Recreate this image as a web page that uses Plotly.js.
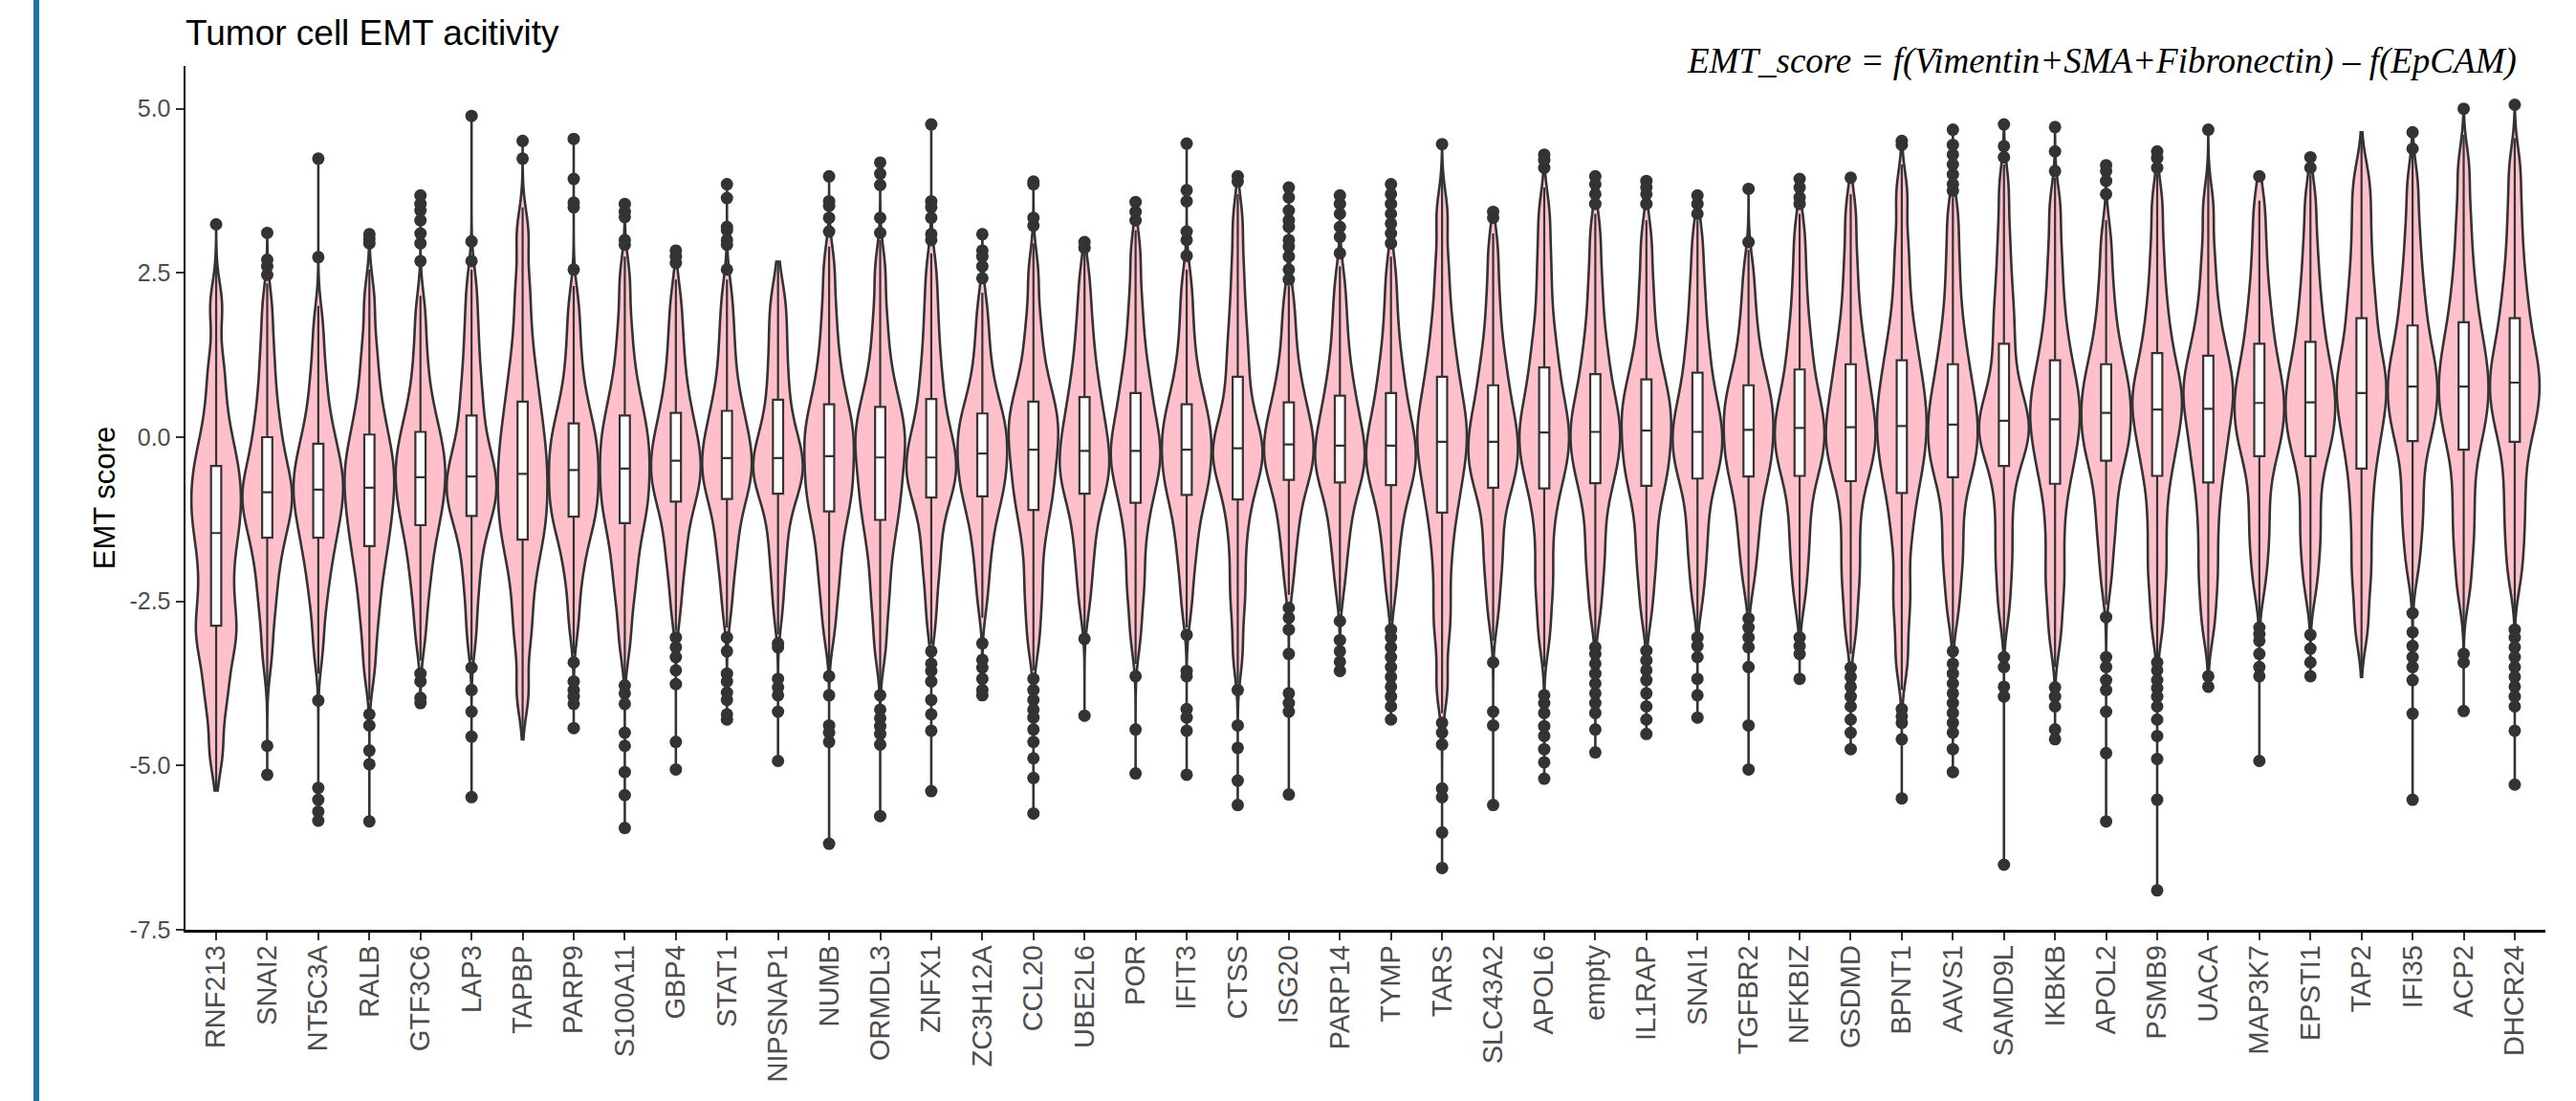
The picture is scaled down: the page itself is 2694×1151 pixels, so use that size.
<!DOCTYPE html>
<html><head><meta charset="utf-8">
<script src="https://cdn.plot.ly/plotly-3.0.1.min.js"></script>
<style>
html,body{margin:0;padding:0;background:#fff;overflow:hidden}
#chart{position:absolute;left:0;top:0;width:2694px;height:1151px}
#bar{position:absolute;left:35px;top:0;width:6px;height:1151px;background:#1B75AB}
</style>
</head><body>
<div id="chart"></div><div id="bar"></div>
<script>
const genes = ['RNF213','SNAI2','NT5C3A','RALB','GTF3C6','LAP3','TAPBP','PARP9','S100A11','GBP4','STAT1','NIPSNAP1','NUMB','ORMDL3','ZNFX1','ZC3H12A','CCL20','UBE2L6','POR','IFIT3','CTSS','ISG20','PARP14','TYMP','TARS','SLC43A2','APOL6','empty','IL1RAP','SNAI1','TGFBR2','NFKBIZ','GSDMD','BPNT1','AAVS1','SAMD9L','IKBKB','APOL2','PSMB9','UACA','MAP3K7','EPSTI1','TAP2','IFI35','ACP2','DHCR24'];

// box statistics
const q1 =          [-2.87,-1.53,-1.53,-1.66,-1.34,-1.20,-1.56,-1.21,-1.31,-0.98,-0.94,-0.86,-1.13,-1.26,-0.92,-0.90,-1.11,-0.86,-1.00,-0.88,-0.95,-0.65,-0.69,-0.73,-1.15,-0.77,-0.78,-0.70,-0.74,-0.63,-0.60,-0.59,-0.67,-0.85,-0.61,-0.44,-0.71,-0.36,-0.59,-0.69,-0.29,-0.29,-0.48,-0.06,-0.19,-0.07];
const median =      [-1.46,-0.84,-0.80,-0.77,-0.61,-0.60,-0.56,-0.50,-0.48,-0.36,-0.32,-0.32,-0.29,-0.31,-0.31,-0.25,-0.19,-0.21,-0.21,-0.19,-0.17,-0.11,-0.13,-0.13,-0.07,-0.07,0.07,0.08,0.10,0.08,0.11,0.14,0.15,0.17,0.19,0.25,0.27,0.37,0.42,0.43,0.52,0.53,0.67,0.77,0.77,0.83];
const q3 =          [-0.44,0.00,-0.10,0.04,0.08,0.33,0.54,0.21,0.33,0.37,0.40,0.57,0.50,0.46,0.58,0.36,0.54,0.61,0.67,0.50,0.92,0.53,0.63,0.67,0.92,0.79,1.06,0.96,0.88,0.98,0.79,1.03,1.11,1.17,1.11,1.42,1.17,1.11,1.28,1.24,1.42,1.45,1.81,1.70,1.75,1.81];
const whiskerLow =  [-5.38,-3.80,-3.60,-4.00,-3.40,-3.40,-4.60,-3.30,-3.70,-2.95,-2.90,-3.00,-3.50,-3.80,-3.15,-2.75,-3.55,-3.00,-3.45,-2.90,-3.75,-2.40,-2.65,-2.80,-4.20,-3.10,-3.50,-3.15,-3.15,-3.00,-2.65,-2.95,-3.30,-3.85,-3.15,-3.20,-3.50,-2.55,-3.35,-3.55,-2.75,-2.85,-3.65,-2.60,-3.05,-2.85];
const whiskerHigh = [2.90,2.34,2.00,2.55,2.15,2.55,3.50,2.30,2.75,2.40,2.40,2.67,2.90,3.00,2.80,2.20,2.95,2.80,3.15,2.55,3.70,2.30,2.60,2.75,4.00,3.10,3.80,3.40,3.30,3.30,2.85,3.40,3.70,4.15,3.65,4.15,3.95,3.30,4.00,4.10,3.60,4.00,4.64,4.30,4.60,4.55];

// distribution estimates (violin body), per gene
const s_RNF213  = [-4.8,-4.1,-3.7,-3.3,-3.05,-2.87,-2.6,-2.3,-2.0,-1.7,-1.46,-1.25,-1.05,-0.85,-0.65,-0.44,-0.2,0.1,0.55,1.1,2.0];
const s_SNAI2   = [-3.3,-2.7,-2.35,-2.0,-1.75,-1.53,-1.35,-1.2,-1.05,-0.95,-0.84,-0.72,-0.58,-0.42,-0.22,0.0,0.25,0.55,0.95,1.4,2.0];
const s_NT5C3A  = [-3.2,-2.6,-2.25,-1.95,-1.72,-1.53,-1.35,-1.2,-1.05,-0.92,-0.8,-0.68,-0.55,-0.42,-0.27,-0.1,0.1,0.35,0.7,1.1,1.7];
const s_RALB    = [-3.5,-2.9,-2.5,-2.15,-1.88,-1.66,-1.45,-1.27,-1.1,-0.93,-0.77,-0.62,-0.48,-0.32,-0.15,0.04,0.28,0.55,0.95,1.4,2.1];
const s_GTF3C6  = [-3.0,-2.45,-2.1,-1.8,-1.55,-1.34,-1.18,-1.03,-0.88,-0.74,-0.61,-0.49,-0.36,-0.22,-0.08,0.08,0.28,0.5,0.85,1.3,1.9];
const s_LAP3    = [-3.0,-2.4,-2.0,-1.65,-1.4,-1.2,-1.06,-0.95,-0.83,-0.72,-0.6,-0.47,-0.33,-0.17,0.05,0.33,0.6,0.9,1.3,1.75,2.3];
const s_TAPBP   = [-3.9,-3.1,-2.6,-2.15,-1.82,-1.56,-1.35,-1.15,-0.95,-0.76,-0.56,-0.37,-0.17,0.05,0.28,0.54,0.85,1.2,1.7,2.3,3.1];
const s_PARP9   = [-2.8,-2.2,-1.85,-1.55,-1.36,-1.21,-1.07,-0.93,-0.8,-0.65,-0.5,-0.37,-0.24,-0.1,0.05,0.21,0.4,0.65,1.0,1.45,2.0];
const s_S100A11 = [-3.1,-2.5,-2.15,-1.82,-1.55,-1.31,-1.13,-0.97,-0.82,-0.65,-0.48,-0.33,-0.18,-0.02,0.15,0.33,0.55,0.82,1.2,1.7,2.4];
const s_GBP4    = [-2.6,-2.05,-1.75,-1.45,-1.18,-0.98,-0.85,-0.72,-0.6,-0.48,-0.36,-0.24,-0.12,0.02,0.18,0.37,0.58,0.85,1.2,1.6,2.1];
const s_STAT1   = [-2.55,-2.0,-1.7,-1.4,-1.14,-0.94,-0.8,-0.67,-0.55,-0.44,-0.32,-0.2,-0.08,0.06,0.22,0.4,0.6,0.88,1.25,1.65,2.15];
const s_NIPSNAP1= [-2.6,-2.05,-1.7,-1.35,-1.08,-0.86,-0.73,-0.62,-0.52,-0.42,-0.32,-0.2,-0.06,0.1,0.3,0.57,0.85,1.15,1.5,1.85,2.2];
const s_NUMB    = [-2.9,-2.35,-2.0,-1.65,-1.37,-1.13,-0.95,-0.8,-0.65,-0.47,-0.29,-0.14,0.0,0.15,0.32,0.5,0.75,1.05,1.45,1.95,2.6];
const s_ORMDL3  = [-3.2,-2.6,-2.2,-1.8,-1.5,-1.26,-1.05,-0.86,-0.68,-0.5,-0.31,-0.16,-0.02,0.13,0.28,0.46,0.68,0.95,1.35,1.85,2.55];
const s_ZNFX1   = [-2.75,-2.15,-1.8,-1.45,-1.15,-0.92,-0.78,-0.66,-0.54,-0.43,-0.31,-0.18,-0.04,0.12,0.32,0.58,0.85,1.15,1.55,2.0,2.55];
const s_ZC3H12A = [-2.45,-1.95,-1.6,-1.3,-1.08,-0.9,-0.77,-0.65,-0.52,-0.38,-0.25,-0.13,-0.01,0.11,0.23,0.36,0.52,0.75,1.05,1.45,1.95];
const s_CCL20   = [-3.1,-2.55,-2.15,-1.7,-1.37,-1.11,-0.91,-0.73,-0.56,-0.37,-0.19,-0.05,0.09,0.23,0.38,0.54,0.73,0.98,1.35,1.8,2.5];
const s_UBE2L6  = [-2.5,-2.0,-1.65,-1.33,-1.07,-0.86,-0.72,-0.6,-0.47,-0.34,-0.21,-0.07,0.07,0.24,0.41,0.61,0.84,1.1,1.45,1.85,2.4];
const s_POR     = [-3.0,-2.4,-2.05,-1.6,-1.28,-1.0,-0.8,-0.62,-0.46,-0.33,-0.21,-0.07,0.08,0.25,0.45,0.67,0.9,1.2,1.6,2.1,2.8];
const s_IFIT3   = [-2.55,-2.0,-1.65,-1.35,-1.08,-0.88,-0.74,-0.6,-0.46,-0.32,-0.19,-0.06,0.07,0.2,0.34,0.5,0.7,0.95,1.3,1.75,2.3];
const s_CTSS    = [-3.3,-2.6,-2.15,-1.65,-1.25,-0.95,-0.72,-0.53,-0.38,-0.27,-0.17,-0.02,0.14,0.33,0.6,0.92,1.25,1.6,2.05,2.6,3.3];
const s_ISG20   = [-2.15,-1.65,-1.35,-1.07,-0.83,-0.65,-0.54,-0.43,-0.32,-0.22,-0.11,0.0,0.11,0.23,0.37,0.53,0.72,0.95,1.25,1.65,2.1];
const s_PARP14  = [-2.2,-1.7,-1.4,-1.1,-0.87,-0.69,-0.57,-0.46,-0.35,-0.24,-0.13,0.0,0.13,0.28,0.44,0.63,0.85,1.1,1.45,1.85,2.35];
const s_TYMP    = [-2.3,-1.8,-1.45,-1.15,-0.92,-0.73,-0.6,-0.48,-0.36,-0.25,-0.13,0.0,0.13,0.28,0.46,0.67,0.9,1.15,1.5,1.95,2.5];
const s_TARS    = [-3.8,-3.0,-2.5,-1.95,-1.5,-1.15,-0.88,-0.64,-0.43,-0.25,-0.07,0.1,0.27,0.45,0.67,0.92,1.2,1.55,2.0,2.6,3.4];
const s_SLC43A2 = [-2.65,-2.1,-1.75,-1.38,-1.02,-0.77,-0.62,-0.48,-0.34,-0.2,-0.07,0.07,0.21,0.37,0.56,0.79,1.02,1.3,1.7,2.2,2.85];
const s_APOL6   = [-3.0,-2.4,-2.0,-1.5,-1.1,-0.78,-0.58,-0.4,-0.22,-0.08,0.07,0.22,0.38,0.58,0.8,1.06,1.35,1.7,2.2,2.75,3.4];
const s_empty   = [-2.6,-2.05,-1.7,-1.3,-0.95,-0.7,-0.52,-0.36,-0.2,-0.06,0.08,0.22,0.36,0.52,0.72,0.96,1.22,1.52,1.95,2.45,3.1];
const s_IL1RAP  = [-2.6,-2.05,-1.7,-1.32,-0.98,-0.74,-0.56,-0.4,-0.24,-0.07,0.1,0.24,0.38,0.53,0.7,0.88,1.12,1.42,1.85,2.35,3.0];
const s_SNAI1   = [-2.4,-1.9,-1.55,-1.2,-0.88,-0.63,-0.47,-0.33,-0.19,-0.05,0.08,0.22,0.36,0.53,0.73,0.98,1.25,1.55,1.95,2.4,3.0];
const s_TGFBR2  = [-2.15,-1.7,-1.38,-1.07,-0.82,-0.6,-0.45,-0.32,-0.19,-0.04,0.11,0.24,0.37,0.5,0.63,0.79,0.98,1.22,1.55,1.95,2.5];
const s_NFKBIZ  = [-2.4,-1.9,-1.55,-1.18,-0.86,-0.59,-0.42,-0.27,-0.13,0.0,0.14,0.28,0.42,0.58,0.78,1.03,1.3,1.6,2.0,2.5,3.1];
const s_GSDMD   = [-2.9,-2.3,-1.9,-1.45,-1.02,-0.67,-0.47,-0.3,-0.13,0.01,0.15,0.31,0.48,0.68,0.88,1.11,1.38,1.7,2.15,2.7,3.4];
const s_BPNT1   = [-3.4,-2.7,-2.2,-1.6,-1.2,-0.85,-0.6,-0.39,-0.19,0.0,0.17,0.35,0.52,0.72,0.93,1.17,1.45,1.8,2.3,2.9,3.7];
const s_AAVS1   = [-2.6,-2.05,-1.7,-1.3,-0.92,-0.61,-0.44,-0.28,-0.12,0.04,0.19,0.34,0.5,0.68,0.88,1.11,1.38,1.7,2.15,2.7,3.35];
const s_SAMD9L  = [-2.6,-2.05,-1.65,-1.2,-0.78,-0.44,-0.26,-0.1,0.05,0.15,0.25,0.4,0.57,0.78,1.07,1.42,1.75,2.1,2.55,3.1,3.8];
const s_IKBKB   = [-3.0,-2.4,-2.0,-1.52,-1.08,-0.71,-0.47,-0.26,-0.06,0.11,0.27,0.43,0.58,0.75,0.95,1.17,1.45,1.8,2.25,2.8,3.5];
const s_APOL2   = [-2.15,-1.6,-1.25,-0.9,-0.6,-0.36,-0.2,-0.06,0.08,0.22,0.37,0.5,0.63,0.78,0.93,1.11,1.32,1.6,1.95,2.4,3.0];
const s_PSMB9   = [-2.85,-2.25,-1.85,-1.4,-0.97,-0.59,-0.34,-0.12,0.08,0.26,0.42,0.56,0.7,0.86,1.05,1.28,1.55,1.88,2.3,2.85,3.55];
const s_UACA    = [-2.85,-2.3,-1.9,-1.45,-1.05,-0.69,-0.42,-0.18,0.03,0.24,0.43,0.58,0.72,0.88,1.05,1.24,1.48,1.78,2.2,2.75,3.5];
const s_MAP3K7  = [-2.2,-1.7,-1.35,-0.95,-0.58,-0.29,-0.1,0.06,0.21,0.37,0.52,0.66,0.81,0.98,1.18,1.42,1.7,2.0,2.4,2.9,3.5];
const s_EPSTI1  = [-2.25,-1.75,-1.4,-1.0,-0.6,-0.29,-0.1,0.06,0.22,0.38,0.53,0.68,0.83,1.0,1.2,1.45,1.72,2.05,2.45,2.95,3.6];
const s_TAP2    = [-2.9,-2.25,-1.8,-1.3,-0.88,-0.48,-0.18,0.07,0.3,0.5,0.67,0.85,1.03,1.23,1.5,1.81,2.12,2.5,2.95,3.45,3.95];
const s_IFI35   = [-1.95,-1.45,-1.1,-0.73,-0.36,-0.06,0.13,0.3,0.46,0.62,0.77,0.92,1.07,1.24,1.45,1.7,1.98,2.3,2.7,3.2,3.85];
const s_ACP2    = [-2.3,-1.75,-1.35,-0.95,-0.55,-0.19,0.05,0.24,0.43,0.6,0.77,0.93,1.1,1.3,1.5,1.75,2.05,2.4,2.85,3.4,4.1];
const s_DHCR24  = [-2.1,-1.6,-1.2,-0.8,-0.42,-0.07,0.15,0.34,0.51,0.67,0.83,0.98,1.14,1.33,1.55,1.81,2.1,2.45,2.9,3.45,4.1];

// outlier points, per gene
const o_RNF213  = [3.24];
const o_SNAI2   = [2.47,2.6,2.7,3.11,-4.7,-5.14];
const o_NT5C3A  = [2.74,4.24,-4.01,-5.34,-5.52,-5.7,-5.84];
const o_RALB    = [2.95,3.02,3.09,-4.22,-4.39,-4.77,-4.98,-5.85];
const o_GTF3C6  = [2.68,2.95,3.1,3.3,3.45,3.55,3.68,-3.6,-3.72,-3.97,-4.05];
const o_LAP3    = [2.68,2.98,4.89,-3.51,-3.85,-4.18,-4.56,-5.48];
const o_TAPBP   = [4.24,4.51];
const o_PARP9   = [2.55,3.5,3.57,3.93,4.54,-3.43,-3.72,-3.85,-3.95,-4.06,-4.43];
const o_S100A11 = [2.93,3.0,3.35,3.43,3.55,-3.78,-3.9,-4.06,-4.5,-4.7,-5.1,-5.45,-5.95];
const o_GBP4    = [2.65,2.75,2.84,-3.05,-3.2,-3.35,-3.55,-3.76,-4.64,-5.06];
const o_STAT1   = [2.55,2.93,3.0,3.15,3.2,3.64,3.85,-3.05,-3.26,-3.6,-3.72,-3.89,-4.0,-4.22,-4.3];
const o_NIPSNAP1= [-3.14,-3.2,-3.68,-3.81,-3.93,-4.18,-4.93];
const o_NUMB    = [3.13,3.34,3.52,3.59,3.97,-3.64,-3.93,-4.39,-4.5,-4.64,-6.19];
const o_ORMDL3  = [3.11,3.34,3.84,4.01,4.18,-3.93,-4.15,-4.28,-4.4,-4.52,-4.68,-5.77];
const o_ZNFX1   = [3.0,3.09,3.34,3.5,3.59,4.76,-3.26,-3.45,-3.56,-3.72,-4.0,-4.22,-4.47,-5.39];
const o_ZC3H12A = [2.42,2.6,2.75,2.84,3.09,-3.14,-3.39,-3.51,-3.68,-3.85,-3.93];
const o_CCL20   = [3.22,3.34,3.85,3.89,-3.68,-3.85,-4.0,-4.15,-4.27,-4.45,-4.64,-4.89,-5.19,-5.73];
const o_UBE2L6  = [2.88,2.97,-3.07,-4.24];
const o_POR     = [3.3,3.43,3.58,-3.64,-4.45,-5.12];
const o_IFIT3   = [2.76,3.0,3.13,3.59,3.76,4.47,-3.01,-3.56,-3.64,-4.14,-4.27,-4.47,-5.14];
const o_CTSS    = [3.89,3.97,-3.85,-4.39,-4.73,-5.23,-5.6];
const o_ISG20   = [2.4,2.55,2.75,2.9,3.0,3.2,3.3,3.45,3.65,3.8,-2.6,-2.75,-2.93,-3.3,-3.9,-4.05,-4.18,-5.44];
const o_PARP14  = [2.8,3.05,3.2,3.4,3.55,3.68,-2.8,-3.09,-3.26,-3.42,-3.56];
const o_TYMP    = [2.95,3.1,3.25,3.4,3.55,3.7,3.85,-2.93,-3.05,-3.2,-3.35,-3.5,-3.65,-3.8,-3.95,-4.1,-4.3];
const o_TARS    = [4.46,-4.35,-4.5,-4.68,-5.35,-5.48,-6.02,-6.56];
const o_SLC43A2 = [3.34,3.43,-3.43,-4.18,-4.39,-5.6];
const o_APOL6   = [4.1,4.22,4.3,-3.93,-4.05,-4.2,-4.4,-4.55,-4.75,-4.95,-5.2];
const o_empty   = [3.55,3.7,3.85,3.97,-3.2,-3.3,-3.45,-3.6,-3.75,-3.9,-4.05,-4.2,-4.45,-4.8];
const o_IL1RAP  = [3.55,3.7,3.8,3.9,-3.25,-3.4,-3.55,-3.7,-3.9,-4.1,-4.3,-4.52];
const o_SNAI1   = [3.4,3.55,3.68,-3.05,-3.18,-3.35,-3.68,-3.93,-4.27];
const o_TGFBR2  = [2.97,3.78,-2.76,-2.9,-3.05,-3.2,-3.5,-4.39,-5.06];
const o_NFKBIZ  = [3.55,3.65,3.8,3.93,-3.05,-3.18,-3.3,-3.68];
const o_GSDMD   = [3.95,-3.51,-3.65,-3.8,-3.95,-4.1,-4.3,-4.5,-4.75];
const o_BPNT1   = [4.45,4.51,-4.14,-4.25,-4.35,-4.6,-5.5];
const o_AAVS1   = [3.75,3.85,4.0,4.15,4.3,4.45,4.68,-3.26,-3.45,-3.6,-3.75,-3.9,-4.05,-4.2,-4.35,-4.5,-4.75,-5.1];
const o_SAMD9L  = [4.26,4.43,4.76,-3.35,-3.5,-3.8,-3.95,-6.51];
const o_IKBKB   = [4.05,4.35,4.72,-3.81,-3.95,-4.1,-4.45,-4.6];
const o_APOL2   = [3.7,3.9,4.05,4.14,-2.74,-3.35,-3.5,-3.7,-3.85,-4.18,-4.81,-5.85];
const o_PSMB9   = [4.1,4.25,4.35,-3.43,-3.55,-3.7,-3.82,-3.95,-4.1,-4.3,-4.55,-4.9,-5.52,-6.9];
const o_UACA    = [4.68,-3.64,-3.8];
const o_MAP3K7  = [3.97,-2.9,-3.0,-3.1,-3.3,-3.5,-3.64,-4.93];
const o_EPSTI1  = [4.1,4.26,-3.01,-3.22,-3.43,-3.64];
const o_TAP2    = [];
const o_IFI35   = [4.39,4.64,-2.68,-2.97,-3.18,-3.35,-3.5,-3.7,-4.21,-5.52];
const o_ACP2    = [5.0,-3.3,-3.43,-4.17];
const o_DHCR24  = [5.06,-2.93,-3.05,-3.2,-3.35,-3.5,-3.65,-3.8,-3.95,-4.1,-4.47,-5.29];

const samples = [s_RNF213,s_SNAI2,s_NT5C3A,s_RALB,s_GTF3C6,s_LAP3,s_TAPBP,s_PARP9,s_S100A11,s_GBP4,s_STAT1,s_NIPSNAP1,s_NUMB,s_ORMDL3,s_ZNFX1,s_ZC3H12A,s_CCL20,s_UBE2L6,s_POR,s_IFIT3,s_CTSS,s_ISG20,s_PARP14,s_TYMP,s_TARS,s_SLC43A2,s_APOL6,s_empty,s_IL1RAP,s_SNAI1,s_TGFBR2,s_NFKBIZ,s_GSDMD,s_BPNT1,s_AAVS1,s_SAMD9L,s_IKBKB,s_APOL2,s_PSMB9,s_UACA,s_MAP3K7,s_EPSTI1,s_TAP2,s_IFI35,s_ACP2,s_DHCR24];
const outliers = [o_RNF213,o_SNAI2,o_NT5C3A,o_RALB,o_GTF3C6,o_LAP3,o_TAPBP,o_PARP9,o_S100A11,o_GBP4,o_STAT1,o_NIPSNAP1,o_NUMB,o_ORMDL3,o_ZNFX1,o_ZC3H12A,o_CCL20,o_UBE2L6,o_POR,o_IFIT3,o_CTSS,o_ISG20,o_PARP14,o_TYMP,o_TARS,o_SLC43A2,o_APOL6,o_empty,o_IL1RAP,o_SNAI1,o_TGFBR2,o_NFKBIZ,o_GSDMD,o_BPNT1,o_AAVS1,o_SAMD9L,o_IKBKB,o_APOL2,o_PSMB9,o_UACA,o_MAP3K7,o_EPSTI1,o_TAP2,o_IFI35,o_ACP2,o_DHCR24];

const SANS = 'Liberation Sans, Arial, Helvetica, sans-serif';
const DARK = '#333333';

const traces = [];
const ox = [], oy = [];
genes.forEach((g, i) => {
  const all = samples[i].concat(outliers[i], [whiskerLow[i], whiskerHigh[i]]);
  traces.push({
    type: 'violin', x: samples[i].map(() => g), y: samples[i],
    spanmode: 'manual', span: [Math.min(...all), Math.max(...all)],
    bandwidth: 0.36, scalemode: 'count', scalegroup: 'all', width: 0.97,
    fillcolor: '#FFC0CB', line: { color: DARK, width: 2.6 },
    points: false, box: { visible: false }, meanline: { visible: false },
    hoverinfo: 'skip', showlegend: false
  });
  outliers[i].forEach(v => { ox.push(g); oy.push(v); });
});
traces.push({ type: 'box', x: genes, q1: q1, median: median, q3: q3,
  lowerfence: whiskerLow, upperfence: whiskerHigh,
  boxpoints: false, width: 0.2, whiskerwidth: 0,
  fillcolor: '#FFFFFF', line: { color: DARK, width: 2.2 },
  hoverinfo: 'skip', showlegend: false });
traces.push({ type: 'scatter', mode: 'markers', x: ox, y: oy,
  marker: { color: DARK, size: 13 }, hoverinfo: 'skip', showlegend: false, cliponaxis: false });

const layout = {
  width: 2694, height: 1151,
  margin: { l: 194, r: 32, t: 69, b: 179, pad: 0 },
  paper_bgcolor: '#FFFFFF', plot_bgcolor: '#FFFFFF',
  showlegend: false, violinmode: 'overlay', boxmode: 'overlay',
  font: { family: SANS, color: '#000' },
  title: { text: 'Tumor cell EMT acitivity', x: 0, xref: 'paper', xanchor: 'left',
           y: 1 - 34 / 1151, yref: 'container', yanchor: 'middle',
           font: { family: SANS, size: 37, color: '#000' } },
  xaxis: { type: 'category', categoryorder: 'array', categoryarray: genes,
           range: [-0.6, genes.length - 0.4], showgrid: false, zeroline: false,
           showline: true, linecolor: '#000', linewidth: 2.5,
           ticks: 'outside', ticklen: 8, tickwidth: 2, tickcolor: DARK,
           tickangle: -90, ticklabelstandoff: -6,
           tickfont: { family: SANS, size: 29, color: '#4D4D4D' } },
  yaxis: { range: [-7.5, 5.65], tickvals: [-7.5, -5, -2.5, 0, 2.5, 5],
           ticktext: ['-7.5', '-5.0', '-2.5', '0.0', '2.5', '5.0'],
           showgrid: false, zeroline: false, showline: true, linecolor: '#000', linewidth: 2.5,
           ticks: 'outside', ticklen: 8, tickwidth: 2, tickcolor: DARK,
           tickfont: { family: SANS, size: 25, color: '#4D4D4D' },
           title: { text: 'EMT score', standoff: 6, font: { family: SANS, size: 31, color: '#000' } } },
  annotations: [{ text: '<i>EMT_score = f(Vimentin+SMA+Fibronectin) – f(EpCAM)</i>',
                  xref: 'paper', yref: 'paper', x: (2634 - 194) / 2468, y: 1.0055,
                  xanchor: 'right', yanchor: 'middle', showarrow: false,
                  font: { family: 'Liberation Serif, Times New Roman, serif', size: 37, color: '#000' } }]
};

Plotly.newPlot('chart', traces, layout, { staticPlot: true, displayModeBar: false });
</script>
</body></html>
